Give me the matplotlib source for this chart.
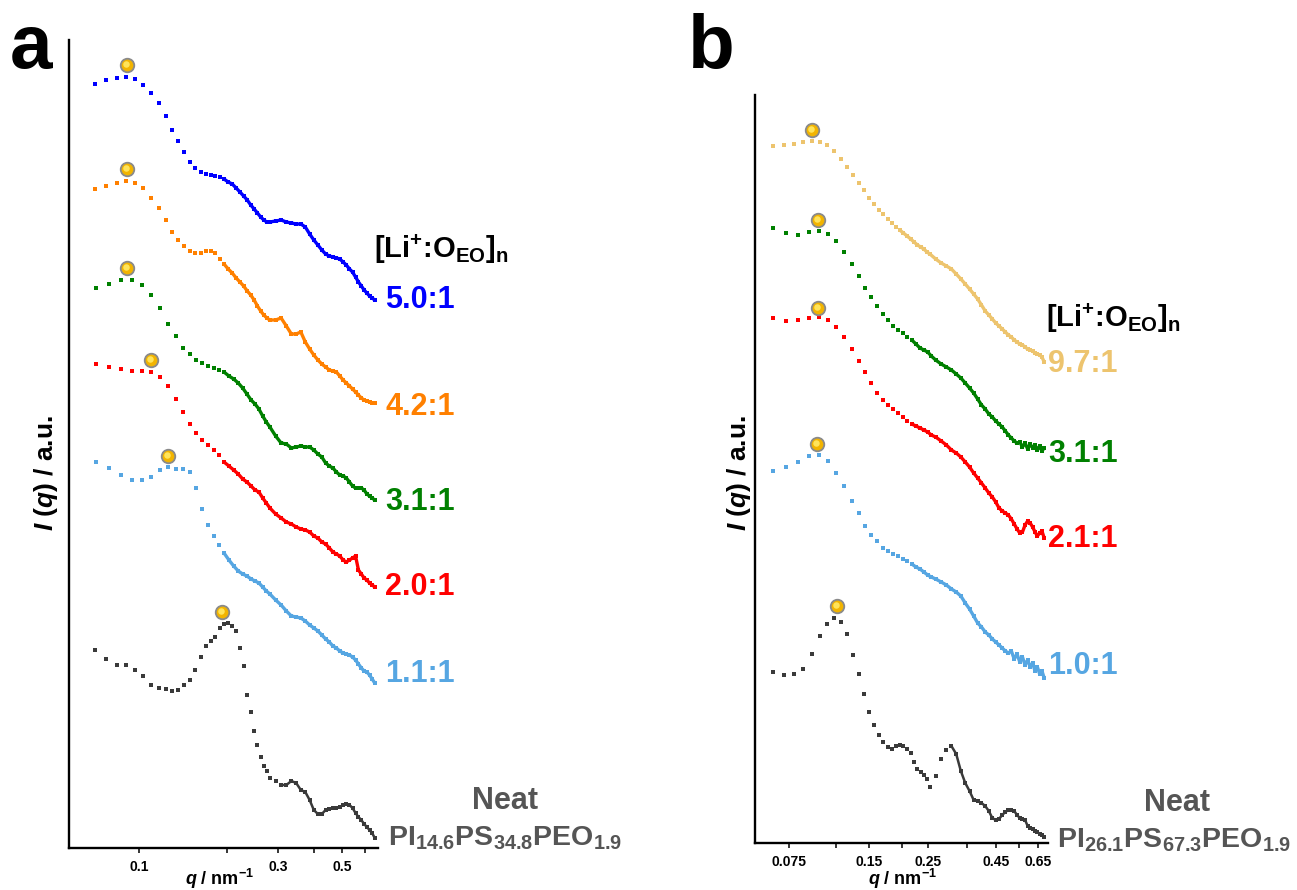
import matplotlib
matplotlib.use('Agg')
import matplotlib.pyplot as plt
import numpy as np
from matplotlib.ticker import FixedLocator, FixedFormatter, NullFormatter
from matplotlib.transforms import offset_copy

plt.rcParams['font.family'] = ['Liberation Sans', 'DejaVu Sans']
plt.rcParams['font.weight'] = 'bold'
plt.rcParams['mathtext.fontset'] = 'custom'
plt.rcParams['mathtext.rm'] = 'Liberation Sans:bold'
plt.rcParams['mathtext.it'] = 'Liberation Sans:italic:bold'
plt.rcParams['mathtext.bf'] = 'Liberation Sans:bold'

# ---- panel a : PI14.6PS34.8PEO1.9 ----
tail_a = [0.295, 0.308, 0.321, 0.334, 0.347, 0.360, 0.373, 0.386, 0.399, 0.412,
          0.425, 0.438, 0.451, 0.464, 0.477, 0.490, 0.503, 0.516, 0.529, 0.542,
          0.555, 0.568, 0.581, 0.594, 0.607, 0.620, 0.633, 0.646]
q_a1 = [0.0706, 0.0772, 0.0838, 0.0904, 0.0970, 0.1036, 0.1102, 0.1168, 0.1234, 0.1300,
        0.1366, 0.1432, 0.1498, 0.1564, 0.1630, 0.1696, 0.1762, 0.1828, 0.1894, 0.1960,
        0.2026, 0.2092, 0.2158, 0.2224, 0.2290, 0.2356, 0.2422, 0.2488, 0.2554, 0.2620,
        0.2686, 0.2752, 0.2818] + tail_a
q_a2 = [0.0712, 0.0790, 0.0868, 0.0946, 0.1024, 0.1102, 0.1180, 0.1258, 0.1336, 0.1414,
        0.1492, 0.1570, 0.1648, 0.1726, 0.1804, 0.1882, 0.1960, 0.2038, 0.2116, 0.2194,
        0.2272, 0.2350, 0.2428, 0.2506, 0.2584, 0.2662, 0.2740, 0.2818] + tail_a

# stacked intensities (a.u., offset)
I_a_50 = [764, 768, 770, 771, 769, 763, 755, 745, 732, 718, 707, 696, 686, 680, 676, 674, 673,
          672, 671, 669, 666, 664, 660, 656, 652, 648, 643, 639, 635, 631, 628, 626, 626,
          627, 628, 626, 625, 624, 624, 621, 614, 608, 603, 598, 594, 592, 591, 590, 589,
          586, 583, 579, 576, 571, 566, 562, 558, 555, 552, 550, 548]
I_a_42 = [659, 662, 665, 667, 665, 660, 650, 640, 628, 616, 608, 602, 597, 595, 595, 597, 597,
          595, 589, 584, 579, 575, 570, 566, 562, 557, 553, 548, 542, 537, 533, 530, 528,
          528, 530, 522, 514, 514, 516, 506, 499, 493, 488, 484, 481, 478, 477, 476, 472,
          468, 465, 462, 459, 456, 453, 450, 448, 447, 446, 445, 445]
I_a_31 = [560, 564, 568, 568, 563, 553, 540, 524, 512, 500, 494, 488, 485, 482, 480, 478, 476,
          472, 469, 465, 460, 454, 448, 444, 439, 432, 426, 421,
          412, 405, 404, 400, 401, 402, 401, 401, 398, 394, 391, 385, 382, 380, 376, 373,
          372, 370, 366, 362, 360, 360, 360, 358, 354, 352, 350, 348]
I_a_20 = [484, 481, 479, 477, 477, 476, 471, 462, 449, 436, 424, 415, 408, 403, 398, 393, 386,
          382, 378, 374, 369, 366, 362, 358, 356, 350, 345, 340,
          334, 330, 326, 324, 321, 319, 318, 316, 312, 310, 306, 304, 300, 296, 294, 292,
          288, 286, 288, 290, 292, 278, 274, 270, 268, 265, 263, 261]
I_a_11 = [386, 380, 373, 368, 368, 371, 378, 381, 379, 379, 376, 360, 339, 323, 312, 303, 295,
          288, 282, 277, 274, 272, 269, 267, 265, 261, 257, 254,
          248, 243, 237, 232, 231, 230, 227, 223, 220, 217, 213, 209, 206, 202, 200, 197,
          195, 194, 193, 191, 188, 184, 180, 177, 176, 173, 169, 165]
I_a_neat = [198, 189, 183, 183, 178, 172, 163, 160, 159, 157, 158, 163, 168, 178, 191, 202, 207,
            211, 220, 224, 225, 222, 217, 200, 182, 153, 136, 117, 103, 91, 82, 77, 70,
            67, 63, 63, 67, 65, 58, 56, 48, 38, 34, 34, 38, 39, 40, 40, 41, 43, 44, 43, 40,
            35, 31, 28, 24, 21, 18, 15, 10]
peak_q_a = [0.0907, 0.0907, 0.0907, 0.1099, 0.1255, 0.1933]
peak_I_a = [783, 679, 580, 488, 392, 236]
labels_a = ['5.0:1', '4.2:1', '3.1:1', '2.0:1', '1.1:1']

# ---- panel b : PI26.1PS67.3PEO1.9 ----
tail_b = [0.267, 0.280, 0.293, 0.306, 0.319, 0.332, 0.345, 0.358, 0.371, 0.384, 0.397,
          0.410, 0.423, 0.436, 0.449, 0.462, 0.475, 0.488, 0.501, 0.514, 0.527, 0.540,
          0.553, 0.566, 0.579, 0.592, 0.605, 0.618, 0.631, 0.644, 0.657, 0.670, 0.683]
q_b1 = [0.0655, 0.0720, 0.0785, 0.0850, 0.0915, 0.0980, 0.1045, 0.1110, 0.1175, 0.1240,
        0.1305, 0.1370, 0.1435, 0.1500, 0.1565, 0.1630, 0.1695, 0.1760, 0.1825, 0.1890,
        0.1955, 0.2020, 0.2085, 0.2150, 0.2215, 0.2280, 0.2345, 0.2410, 0.2475, 0.2540] + tail_b
q_b2 = [0.0651, 0.0731, 0.0811, 0.0891, 0.0971, 0.1051, 0.1131, 0.1211, 0.1291, 0.1371,
        0.1451, 0.1531, 0.1611, 0.1691, 0.1771, 0.1851, 0.1931, 0.2011, 0.2091, 0.2171,
        0.2251, 0.2331, 0.2411, 0.2491, 0.2571] + tail_b

I_b_97 = [697, 698, 699, 701, 702, 701, 698, 692, 684, 676, 668, 660, 653, 645, 639, 633, 629,
          624, 620, 616, 613, 610, 607, 604, 601, 598, 596, 594, 591, 589,
          584, 580, 577, 574, 569, 564, 559, 554, 549, 544, 538, 532, 528, 524, 520, 517,
          514, 511, 508, 506, 503, 501, 499, 498, 496, 494, 493, 492, 490, 489, 488, 486, 481]
I_b_31 = [615, 610, 608, 611, 612, 609, 602, 591, 579, 567, 555, 546, 537, 529, 523, 517, 513,
          510, 506, 503, 499, 495, 493, 491, 487,
          483, 479, 476, 473, 469, 465, 460, 455, 450, 444, 438, 434, 429, 426, 422, 419,
          416, 412, 408, 405, 402, 400, 401, 396, 400, 394, 399, 395, 398, 393, 397, 392, 395]
I_b_21 = [525, 522, 523, 525, 526, 523, 516, 506, 494, 482, 471, 460, 450, 443, 438, 434, 430,
          426, 422, 419, 417, 415, 413, 411, 408,
          406, 402, 398, 393, 390, 386, 381, 376, 370, 365, 360, 355, 350, 346, 341, 335,
          332, 330, 328, 324, 319, 314, 310, 311, 318, 322, 320, 316, 311, 307, 310, 312, 305]
I_b_10 = [372, 376, 381, 387, 388, 382, 370, 357, 342, 330, 317, 308, 302, 295, 292, 289, 287,
          284, 282, 279, 276, 274, 271, 268, 266,
          264, 261, 258, 254, 251, 247, 240, 234, 227, 220, 216, 211, 208, 204, 201, 198,
          195, 192, 190, 192, 184, 189, 181, 186, 178, 183, 176, 180, 172, 176, 169, 172, 165]
I_b_neat = [171, 168, 169, 174, 189, 207, 219, 225, 221, 209, 188, 169, 149, 131, 118, 108, 101,
            96, 94, 97, 98, 97, 94, 90, 81, 74, 71, 68, 64, 56,
            67, 84, 93, 97, 89, 72, 60, 52, 43, 42, 40, 37, 32, 25, 23, 24, 28, 31, 33, 33,
            32, 28, 25, 24, 23, 17, 15, 14, 12, 11, 9, 8, 6]
peak_q_b = [0.0918, 0.0967, 0.0967, 0.0958, 0.1133]
peak_I_b = [713, 623, 535, 399, 237]
labels_b = ['9.7:1', '3.1:1', '2.1:1', '1.0:1']

c_blue, c_orange, c_green, c_red = '#0000FF', '#FF8000', '#008000', '#FF0000'
c_lblue, c_gray, c_tan = '#56A6E2', '#3A3A3A', '#EDC46E'

W, H = 1297, 890
fig = plt.figure(figsize=(W / 100, H / 100), dpi=100)
ax_a = fig.add_axes([69 / W, 1 - 848 / H, 309 / W, 808 / H])
ax_b = fig.add_axes([755 / W, 1 - 843 / H, 293 / W, 748 / H])


def curve(ax, q, I, color, qdense, lw=2.4):
    q = np.array(q)
    I = np.array(I)
    ax.plot(q, I, ls='none', marker='s', ms=3.2, mew=0, color=color)
    m = q >= qdense
    ax.plot(q[m], I[m], color=color, lw=lw, solid_capstyle='butt')


def balls(ax, q, I):
    ax.scatter(q, I, s=95, color='#F2B400', edgecolors='#8A8A8A', linewidths=1.3, zorder=5)
    hl = offset_copy(ax.transData, fig=fig, x=-1.0, y=1.5, units='dots')
    ax.scatter(q, I, s=22, color='#FFE45A', linewidths=0, transform=hl, zorder=6)


def style(ax, xlim, ylim, major, major_lbl, minor):
    ax.set_xscale('log')
    ax.set_xlim(*xlim)
    ax.set_ylim(*ylim)
    ax.xaxis.set_major_locator(FixedLocator(major))
    ax.xaxis.set_major_formatter(FixedFormatter(major_lbl))
    ax.xaxis.set_minor_locator(FixedLocator(minor))
    ax.xaxis.set_minor_formatter(NullFormatter())
    ax.tick_params(axis='x', which='both', direction='out', length=3.8, width=1.1, pad=5,
                   labelsize=10)
    ax.set_yticks([])
    for s in ['top', 'right']:
        ax.spines[s].set_visible(False)
    for s in ['left', 'bottom']:
        ax.spines[s].set_linewidth(1.7)


# panel a
curve(ax_a, q_a1, I_a_50, c_blue, 0.19)
curve(ax_a, q_a1, I_a_42, c_orange, 0.19)
curve(ax_a, q_a2, I_a_31, c_green, 0.19)
curve(ax_a, q_a2, I_a_20, c_red, 0.19)
curve(ax_a, q_a2, I_a_11, c_lblue, 0.19)
curve(ax_a, q_a1, I_a_neat, c_gray, 0.30, lw=1.8)
balls(ax_a, peak_q_a, peak_I_a)
style(ax_a, (0.0575, 0.663), (0, 808), [0.1, 0.3, 0.5], ['0.1', '0.3', '0.5'], [0.2, 0.4, 0.6])

# panel b
curve(ax_b, q_b1, I_b_97, c_tan, 0.19)
curve(ax_b, q_b2, I_b_31, c_green, 0.21)
curve(ax_b, q_b2, I_b_21, c_red, 0.21)
curve(ax_b, q_b2, I_b_10, c_lblue, 0.21)
curve(ax_b, q_b1, I_b_neat, c_gray, 0.30, lw=1.8)
balls(ax_b, peak_q_b, peak_I_b)
style(ax_b, (0.0559, 0.706), (0, 748), [0.075, 0.15, 0.25, 0.45, 0.65],
      ['0.075', '0.15', '0.25', '0.45', '0.65'], [0.113, 0.2, 0.35, 0.55])


def ftxt(x, y, s, **kw):
    fig.text(x / W, 1 - y / H, s, **kw)


ylab = r'$I$ ($q$) / a.u.'
xlab = r'$q$ / nm$^{-1}$'
salt = r'[Li$^{+}$:O$_{\mathrm{EO}}$]$_{\mathrm{n}}$'

ftxt(10, 68, 'a', fontsize=55, va='baseline', ha='left')
ftxt(688, 68, 'b', fontsize=55, va='baseline', ha='left')
ftxt(46, 473, ylab, fontsize=19, rotation=90, ha='center', va='center')
ftxt(739, 473, ylab, fontsize=19, rotation=90, ha='center', va='center')
ftxt(220, 879, xlab, fontsize=13, ha='center', va='center')
ftxt(903, 879, xlab, fontsize=13, ha='center', va='center')

ftxt(374, 258, salt, fontsize=21, ha='left', va='baseline')
for lab, col, y in zip(labels_a, [c_blue, c_orange, c_green, c_red, c_lblue],
                       [298, 405, 500, 585, 672]):
    ftxt(385, y + 2, lab, fontsize=22, color=col, ha='left', va='center')
ftxt(505, 801, 'Neat', fontsize=22, color='#555555', ha='center', va='center')
ftxt(388, 846, r'PI$_{14.6}$PS$_{34.8}$PEO$_{1.9}$', fontsize=20.5, color='#555555',
     ha='left', va='baseline')

ftxt(1046, 327, salt, fontsize=21, ha='left', va='baseline')
for lab, col, y in zip(labels_b, [c_tan, c_green, c_red, c_lblue], [362, 452, 537, 664]):
    ftxt(1048, y + 2, lab, fontsize=22, color=col, ha='left', va='center')
ftxt(1177, 803, 'Neat', fontsize=22, color='#555555', ha='center', va='center')
ftxt(1057, 848, r'PI$_{26.1}$PS$_{67.3}$PEO$_{1.9}$', fontsize=20.5, color='#555555',
     ha='left', va='baseline')

fig.savefig('out.png', dpi=100)
